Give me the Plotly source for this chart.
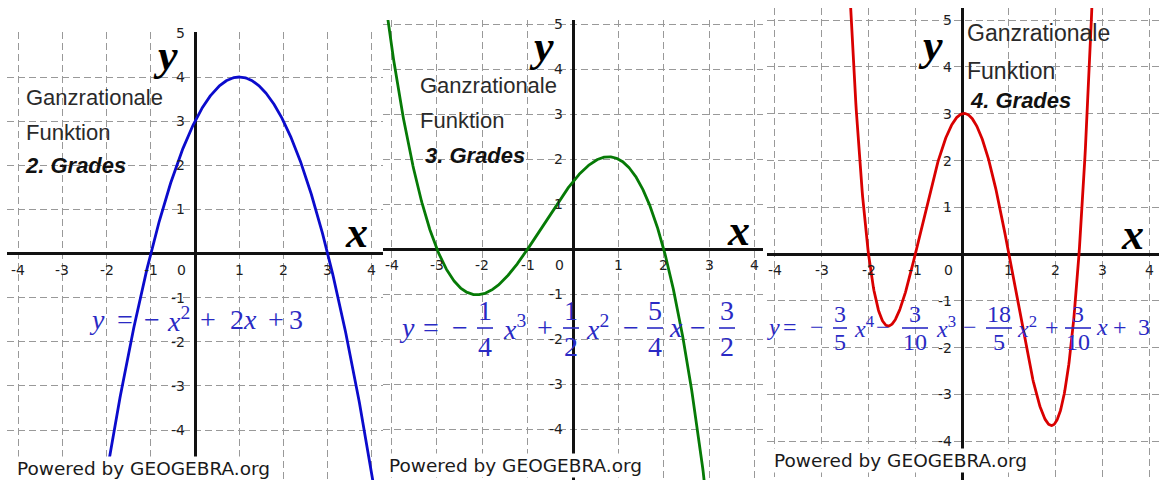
import numpy as np
import plotly.graph_objects as go

W, H = 1159, 480

# Polynomial coefficients, highest power first
coeffs_deg2 = [-1.0, 2.0, 3.0]
coeffs_deg3 = [-0.25, -0.5, 1.25, 1.5]
coeffs_deg4 = [0.6, -0.3, -3.6, 0.3, 3.0]

# Grid positions and tick labels
x_tick_vals = [-4, -3, -2, -1, 1, 2, 3, 4]
x_tick_text = ["-4", "-3", "-2", "-1", "1", "2", "3", "4"]
y_tick_vals = [-4, -3, -2, -1, 1, 2, 3, 4, 5]
y_tick_text = ["-4", "-3", "-2", "-1", "1", "2", "3", "4", "5"]

title_lines = ["Ganzrationale", "Funktion"]
degree_labels = ["2. Grades", "3. Grades", "4. Grades"]
curve_colors = ["#0b0bcc", "#067a06", "#d90000"]
formula_color = "#2a2ac4"
footer_text = "Powered by GEOGEBRA.org"

# Formula pieces: ("t", text, centre_x) for the main line,
# ("f", numerator, denominator, centre_x, half_bar) for stacked fractions
formula_deg2 = [
    ("t", "<i>y</i>", 97), ("t", "=", 125), ("t", "\u2212", 152),
    ("t", "<i>x</i><sup>2</sup>", 178), ("t", "+", 208),
    ("t", "2<i>x</i>", 243), ("t", "+", 276), ("t", "3", 296),
]
formula_deg3 = [
    ("t", "<i>y</i>", 407), ("t", "=", 431), ("t", "\u2212", 460),
    ("f", "1", "4", 485, 8), ("t", "<i>x</i><sup>3</sup>", 514),
    ("t", "+", 545), ("f", "1", "2", 571, 8),
    ("t", "<i>x</i><sup>2</sup>", 597), ("t", "\u2212", 631),
    ("f", "5", "4", 655, 8), ("t", "<i>x</i>", 676), ("t", "\u2212", 698),
    ("f", "3", "2", 727, 8),
]
formula_deg4 = [
    ("t", "<i>y</i>", 773), ("t", "=", 790), ("t", "\u2212", 817),
    ("f", "3", "5", 840, 7), ("t", "<i>x</i><sup>4</sup>", 864),
    ("t", "\u2212", 883), ("f", "3", "10", 915, 13),
    ("t", "<i>x</i><sup>3</sup>", 946), ("t", "\u2212", 970),
    ("f", "18", "5", 999, 13), ("t", "<i>x</i><sup>2</sup>", 1027),
    ("t", "+", 1052), ("f", "3", "10", 1078, 13),
    ("t", "<i>x</i>", 1102), ("t", "+", 1120), ("t", "3", 1144),
]

panels = [
    dict(coeffs=coeffs_deg2, left=7, right=383, top=32,
         xr=[-4.25, 4.25], yr=[-5.13, 5.02],
         title_x=24, title_y=[97, 132], deg_xy=(23, 165), tsize=22,
         y_letter=(165, 55), x_letter=(356, 232), footer=(15, 468),
         formula=formula_deg2, fsize=28, main_y=319, num_y=311, den_y=345, bar_y=328),
    dict(coeffs=coeffs_deg3, left=383, right=763, top=20,
         xr=[-4.19, 4.19], yr=[-5.13, 5.09],
         title_x=418, title_y=[85, 120], deg_xy=(423, 155), tsize=22,
         y_letter=(541, 46), x_letter=(738, 230), footer=(387, 465),
         formula=formula_deg3, fsize=28, main_y=327, num_y=310, den_y=346, bar_y=328),
    dict(coeffs=coeffs_deg4, left=767, right=1159, top=8,
         xr=[-4.17, 4.21], yr=[-4.83, 5.26],
         title_x=965, title_y=[33, 71], deg_xy=(968, 100), tsize=23,
         y_letter=(930, 45), x_letter=(1132, 234), footer=(772, 460),
         formula=formula_deg4, fsize=24, main_y=327, num_y=314, den_y=342, bar_y=328),
]


def px(x):
    return x / W


def py(y):
    return 1 - y / H


fig = go.Figure()
annotations = []
shapes = []
serif = "Liberation Serif"
sans = "Liberation Sans"
tick_font = dict(family="DejaVu Sans", size=14, color="#1e1e1e")

for i, p in enumerate(panels):
    n = "" if i == 0 else str(i + 1)
    xa, ya = "x" + n, "y" + n

    xs = np.linspace(p["xr"][0], p["xr"][1], 800)
    ys = np.polyval(p["coeffs"], xs)
    fig.add_trace(go.Scatter(
        x=xs, y=ys, mode="lines", xaxis=xa, yaxis=ya,
        line=dict(color=curve_colors[i], width=2.8),
        hoverinfo="skip", showlegend=False,
    ))

    axis_common = dict(
        showgrid=True, gridcolor="#999999", gridwidth=1.2, griddash="7px,4px",
        zeroline=True, zerolinecolor="#111111", zerolinewidth=2.6,
        showticklabels=False, ticks="", showline=False, fixedrange=True,
    )
    fig.update_layout({
        "xaxis" + n: dict(domain=[px(p["left"]), px(p["right"])], range=p["xr"],
                          tickmode="array", tickvals=x_tick_vals, anchor=ya,
                          **axis_common),
        "yaxis" + n: dict(domain=[0, py(p["top"])], range=p["yr"],
                          tickmode="array", tickvals=y_tick_vals, anchor=xa,
                          **axis_common),
    })

    # tick labels next to the axes
    for v, t in zip(x_tick_vals, x_tick_text):
        annotations.append(dict(x=v, y=0, xref=xa, yref=ya, text=t, showarrow=False,
                                yshift=-16, xanchor="center", yanchor="middle",
                                font=tick_font))
    for v, t in zip(y_tick_vals, y_tick_text):
        annotations.append(dict(x=0, y=v, xref=xa, yref=ya, text=t, showarrow=False,
                                xshift=-8, xanchor="right", yanchor="middle",
                                font=tick_font))
    annotations.append(dict(x=0, y=0, xref=xa, yref=ya, text="0", showarrow=False,
                            xshift=-14, yshift=-16, xanchor="center", yanchor="middle",
                            font=tick_font))

    # axis letters
    for txt, (cx, cy) in (("y", p["y_letter"]), ("x", p["x_letter"])):
        annotations.append(dict(x=px(cx), y=py(cy), xref="paper", yref="paper",
                                text="<b><i>%s</i></b>" % txt, showarrow=False,
                                xanchor="center", yanchor="middle",
                                font=dict(family=serif, size=44, color="#000000")))

    # heading text
    for line, cy in zip(title_lines, p["title_y"]):
        annotations.append(dict(x=px(p["title_x"]), y=py(cy), xref="paper", yref="paper",
                                text=line, showarrow=False, xanchor="left", yanchor="middle",
                                font=dict(family=sans, size=p["tsize"], color="#2a2a2a")))
    dx, dy = p["deg_xy"]
    annotations.append(dict(x=px(dx), y=py(dy), xref="paper", yref="paper",
                            text="<b><i>%s</i></b>" % degree_labels[i], showarrow=False,
                            xanchor="left", yanchor="middle",
                            font=dict(family=sans, size=22, color="#111111")))

    # equation of the curve
    ffont = dict(family=serif, size=p["fsize"], color=formula_color)
    for piece in p["formula"]:
        if piece[0] == "t":
            _, txt, cx = piece
            annotations.append(dict(x=px(cx), y=py(p["main_y"]), xref="paper", yref="paper",
                                    text=txt, showarrow=False, xanchor="center",
                                    yanchor="middle", font=ffont))
        else:
            _, num, den, cx, hb = piece
            for txt, cy in ((num, p["num_y"]), (den, p["den_y"])):
                annotations.append(dict(x=px(cx), y=py(cy), xref="paper", yref="paper",
                                        text=txt, showarrow=False, xanchor="center",
                                        yanchor="middle", font=ffont))
            shapes.append(dict(type="line", xref="paper", yref="paper",
                               x0=px(cx - hb), x1=px(cx + hb),
                               y0=py(p["bar_y"]), y1=py(p["bar_y"]),
                               line=dict(color=formula_color, width=1.6)))

    # footer on a white box
    fx, fy = p["footer"]
    annotations.append(dict(x=px(fx), y=py(fy), xref="paper", yref="paper",
                            text=footer_text, showarrow=False, xanchor="left",
                            yanchor="middle", bgcolor="#ffffff", borderpad=1,
                            font=dict(family="DejaVu Sans", size=18.5, color="#1a1a1a")))

fig.update_layout(
    width=W, height=H,
    margin=dict(l=0, r=0, t=0, b=0),
    paper_bgcolor="#ffffff", plot_bgcolor="#ffffff",
    showlegend=False,
    annotations=annotations,
    shapes=shapes,
)

fig.write_html("out.html", config={"displayModeBar": False})
